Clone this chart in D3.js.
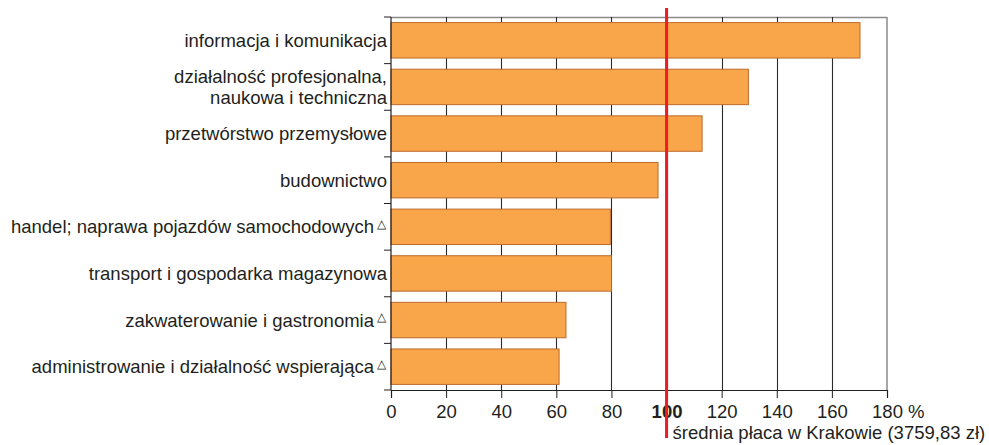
<!DOCTYPE html>
<html>
<head>
<meta charset="utf-8">
<script src="https://cdn.jsdelivr.net/npm/d3@7"></script>
<style>
  html, body { margin: 0; padding: 0; background: #fff; }
  svg { display: block; }
  text { font-family: "Liberation Sans", Arial, sans-serif; fill: #231f20; }
</style>
</head>
<body>
<script>
const categories = [
  ["informacja i komunikacja"],
  ["działalność profesjonalna,", "naukowa i techniczna"],
  ["przetwórstwo przemysłowe"],
  ["budownictwo"],
  ["handel; naprawa pojazdów samochodowych"],
  ["transport i gospodarka magazynowa"],
  ["zakwaterowanie i gastronomia"],
  ["administrowanie i działalność wspierająca"]
];
const triangleMarks = [false, false, false, false, true, false, true, true];
const values = [170.2, 129.7, 112.9, 96.9, 79.6, 80.0, 63.5, 61.0];
const xTicks = [0, 20, 40, 60, 80, 100, 120, 140, 160, 180];
const referenceValue = 100;
const unitLabel = "%";
const referenceLabel = "średnia płaca w Krakowie (3759,83 zł)";

(function () {
const W = 989, H = 445;
const pL = 391, pR = 887, pT = 17, pB = 390;
const fs = 18.5;

const svg = d3.select("body").append("svg").attr("width", W).attr("height", H);

const x = d3.scaleLinear().domain([0, 180]).range([pL, pR]);
const y = d3.scaleBand().domain(d3.range(categories.length)).range([pT, pB])
  .paddingInner(0.24).paddingOuter(0.12);

// frame top and right
svg.append("line").attr("x1", pL).attr("x2", pR).attr("y1", pT + 0.5).attr("y2", pT + 0.5)
  .attr("stroke", "#8a8a8a").attr("stroke-width", 1.5);
svg.append("line").attr("x1", pR).attr("x2", pR).attr("y1", pT).attr("y2", pB)
  .attr("stroke", "#8a8a8a").attr("stroke-width", 1.5);

// gridlines
svg.append("g").selectAll("line").data(xTicks.filter(d => d > 0 && d < 180)).join("line")
  .attr("x1", d => Math.round(x(d)) + 0.5).attr("x2", d => Math.round(x(d)) + 0.5)
  .attr("y1", pT).attr("y2", pB)
  .attr("stroke", "#2b2b2b").attr("stroke-width", 1.1);

// bars
svg.append("g").selectAll("rect").data(values).join("rect")
  .attr("x", x(0)).attr("y", (d, i) => y(i))
  .attr("width", d => x(d) - x(0)).attr("height", y.bandwidth())
  .attr("fill", "#f9a64a").attr("stroke", "#bd6a2c").attr("stroke-width", 1);

// bottom axis
const xAxis = d3.axisBottom(x).tickValues(xTicks).tickSize(8).tickPadding(7).tickFormat(d3.format("d"));
const gx = svg.append("g").attr("transform", `translate(0,${pB})`).call(xAxis);
gx.select(".domain").attr("stroke", "#231f20").attr("stroke-width", 1.2);
gx.selectAll(".tick line").attr("stroke", "#231f20");
gx.selectAll(".tick text").attr("font-size", fs).attr("fill", "#231f20")
  .attr("font-family", "Liberation Sans, Arial, sans-serif")
  .attr("font-weight", d => d === referenceValue ? "bold" : "normal");

// left axis line and ticks at band boundaries
svg.append("line").attr("x1", pL).attr("x2", pL).attr("y1", pT).attr("y2", pB)
  .attr("stroke", "#231f20").attr("stroke-width", 1.2);
const bounds = d3.range(categories.length + 1).map(i => pT + i * y.step());
svg.append("g").selectAll("line").data(bounds).join("line")
  .attr("x1", pL - 7).attr("x2", pL).attr("y1", d => d).attr("y2", d => d)
  .attr("stroke", "#231f20").attr("stroke-width", 1);

// category labels
const lab = svg.append("g");
categories.forEach((lines, i) => {
  const cy = y(i) + y.bandwidth() / 2;
  const rx = triangleMarks[i] ? pL - 17 : pL - 4;
  const lh = 20.8;
  lines.forEach((s, k) => {
    lab.append("text").attr("text-anchor", "end").attr("font-size", fs)
      .attr("x", rx)
      .attr("y", cy + (k - (lines.length - 1) / 2) * lh)
      .attr("dy", "0.35em").text(s);
  });
  if (triangleMarks[i]) {
    lab.append("text").attr("x", pL - 14).attr("y", cy + 1).attr("font-size", 12)
      .attr("font-family", "DejaVu Sans, sans-serif")
      .text("\u25B3");
  }
});

// unit label
svg.append("text").attr("x", x(180) + 21).attr("y", pB + 28).attr("font-size", fs).text(unitLabel);

// reference line
svg.append("line").attr("x1", x(referenceValue)).attr("x2", x(referenceValue))
  .attr("y1", 8).attr("y2", 438).attr("stroke", "#ed1c24").attr("stroke-width", 3);
svg.append("text").attr("x", x(referenceValue) + 6).attr("y", 438.5).attr("font-size", fs)
  .text(referenceLabel);
})();
</script>
</body>
</html>
